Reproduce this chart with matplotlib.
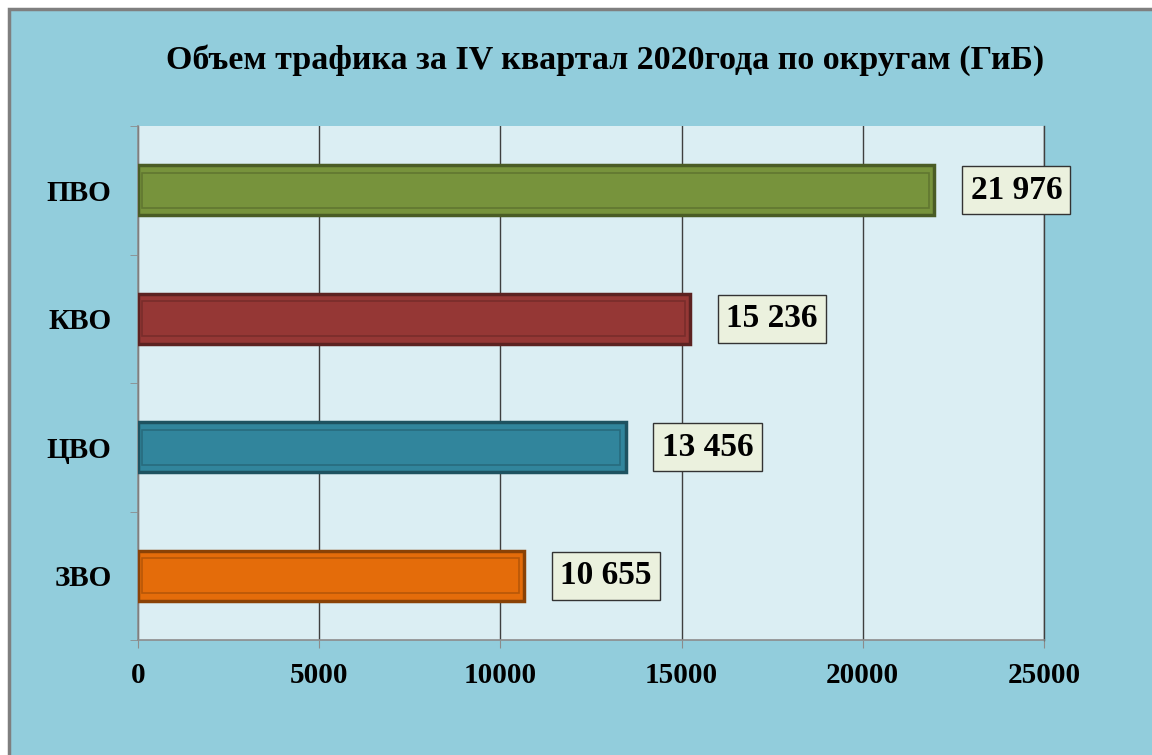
import matplotlib.pyplot as plt
import matplotlib.patches as mpatches
import numpy as np

plt.rcParams['font.family'] = ['Liberation Serif', 'DejaVu Serif']
plt.rcParams['font.weight'] = 'bold'

regions = ['ЗВО', 'ЦВО', 'КВО', 'ПВО']
traffic = [10655, 13456, 15236, 21976]
labels = ['10 655', '13 456', '15 236', '21 976']
colors = ['#E46C0A', '#31859C', '#953735', '#77933C']
edges = ['#8A4206', '#1E5260', '#5C2221', '#4A5C25']

fig = plt.figure(figsize=(11.52, 7.55), dpi=100, facecolor='white')

# chart area background with gray frame (left/top visible)
frame = mpatches.Rectangle((9 / 1152, -0.1), 1.2, 1 - 9 / 755 + 0.1,
                           transform=fig.transFigure, facecolor='#92CDDC',
                           edgecolor='#7F7F7F', linewidth=2.5, zorder=-1)
fig.add_artist(frame)

ax = fig.add_axes([138 / 1152, 1 - 640 / 755, 906 / 1152, 514 / 755])
ax.set_facecolor('#DBEEF3')

y = np.arange(len(regions))
ax.barh(y, traffic, height=0.39, color=colors, edgecolor=edges, linewidth=2.5, zorder=3)
# lighter inner bevel line
ax.barh(y, [t - 250 for t in traffic], left=100, height=0.27, color=colors,
        edgecolor=[plt.matplotlib.colors.to_rgba(c, 0.5) for c in edges],
        linewidth=1.2, zorder=4)

for yi, v, lab in zip(y, traffic, labels):
    ax.annotate(lab, (v, yi), xytext=(26, 0), textcoords='offset points',
                ha='left', va='center', fontsize=24, fontweight='bold',
                bbox=dict(boxstyle='square,pad=0.25', facecolor='#EBF1DE',
                          edgecolor='#333333', linewidth=1), zorder=5)

ax.set_xlim(0, 25000)
ax.set_ylim(-0.5, 3.5)
ax.set_xticks([0, 5000, 10000, 15000, 20000, 25000])
ax.set_xticklabels(['0', '5000', '10000', '15000', '20000', '25000'])
ax.set_yticks(y)
ax.set_yticklabels(regions)
ax.set_yticks(np.arange(-0.5, 4, 1), minor=True)

ax.xaxis.grid(True, color='#3F3F3F', linewidth=1, zorder=1)
ax.set_axisbelow(True)

ax.spines['top'].set_visible(False)
ax.spines['right'].set_color('#3F3F3F')
ax.spines['right'].set_linewidth(1)
for s in ['left', 'bottom']:
    ax.spines[s].set_color('#8C8C8C')
    ax.spines[s].set_linewidth(1.2)

ax.tick_params(axis='x', length=6, color='#8C8C8C', labelsize=21, pad=10)
ax.tick_params(axis='y', which='major', length=0, labelsize=21, pad=19)
ax.tick_params(axis='y', which='minor', length=6, color='#8C8C8C')

fig.text(0.525, 0.92, 'Объем трафика за IV квартал 2020года по округам (ГиБ)',
         ha='center', va='center', fontsize=24.5, fontweight='bold')

fig.savefig('out.png', dpi=100, facecolor=fig.get_facecolor())
